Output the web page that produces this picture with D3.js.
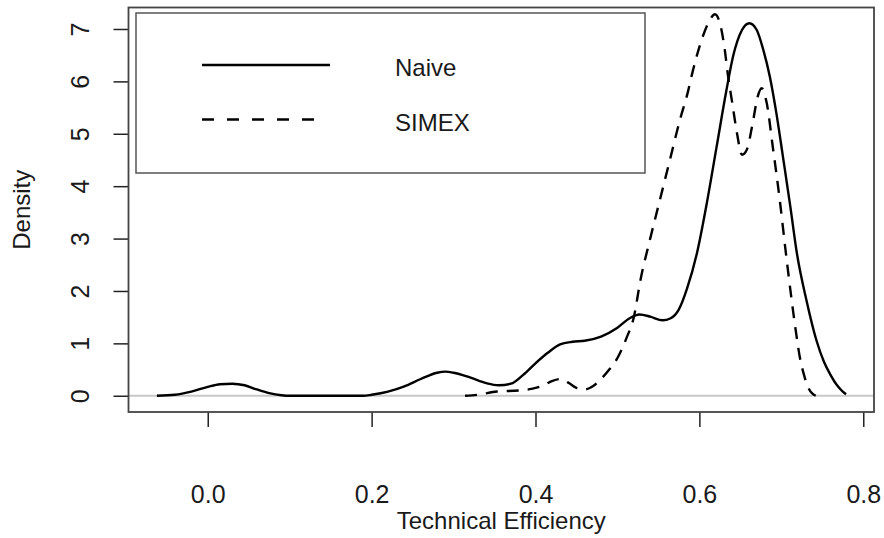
<!DOCTYPE html>
<html>
<head>
<meta charset="utf-8">
<script src="https://cdn.jsdelivr.net/npm/d3@7"></script>
<style>
  body { margin: 0; background: #fff; }
  text { font-family: "Liberation Sans", Arial, sans-serif; fill: #1a1a1a; }
</style>
</head>
<body>
<svg id="chart"></svg>
<script>
// density curves: [technical efficiency, density]
const naive = [
  [-0.062,0.0],[-0.04,0.02],[-0.02,0.08],[0.0,0.17],[0.015,0.22],[0.03,0.23],[0.045,0.2],
  [0.06,0.12],[0.075,0.05],[0.09,0.01],[0.1,0.0],[0.15,0.0],[0.19,0.0],[0.2,0.02],
  [0.22,0.08],[0.24,0.18],[0.26,0.32],[0.28,0.44],[0.29,0.46],[0.30,0.44],[0.32,0.35],
  [0.34,0.24],[0.355,0.2],[0.37,0.23],[0.385,0.4],[0.40,0.62],[0.415,0.82],[0.43,0.98],
  [0.445,1.03],[0.46,1.05],[0.48,1.13],[0.50,1.3],[0.515,1.48],[0.527,1.55],[0.54,1.51],
  [0.555,1.44],[0.565,1.48],[0.575,1.65],[0.585,2.05],[0.597,2.72],[0.609,3.67],
  [0.621,4.75],[0.633,5.83],[0.641,6.47],[0.652,6.98],[0.661,7.11],[0.67,6.98],
  [0.678,6.6],[0.686,6.09],[0.694,5.39],[0.702,4.56],[0.711,3.61],[0.719,2.72],
  [0.731,1.8],[0.743,1.05],[0.752,0.65],[0.76,0.4],[0.768,0.2],[0.775,0.08],[0.779,0.03]
];
const simex = [
  [0.314,0.0],[0.33,0.02],[0.353,0.08],[0.38,0.1],[0.395,0.13],[0.41,0.2],[0.42,0.28],
  [0.43,0.32],[0.44,0.25],[0.45,0.15],[0.46,0.12],[0.47,0.18],[0.48,0.32],[0.49,0.5],
  [0.5,0.72],[0.511,1.1],[0.52,1.5],[0.528,2.2],[0.54,3.0],[0.552,3.75],[0.564,4.5],
  [0.576,5.25],[0.586,5.8],[0.592,6.2],[0.604,6.85],[0.611,7.12],[0.619,7.28],
  [0.627,6.98],[0.631,6.6],[0.635,6.1],[0.64,5.6],[0.646,5.0],[0.652,4.6],[0.658,4.7],
  [0.665,5.2],[0.671,5.7],[0.676,5.87],[0.682,5.6],[0.69,4.7],[0.698,3.75],[0.705,2.8],
  [0.712,1.9],[0.718,1.2],[0.723,0.7],[0.728,0.38],[0.733,0.15],[0.738,0.04],[0.742,0.0]
];
const xTicks = [0, 0.2, 0.4, 0.6, 0.8];
const yTicks = [0, 1, 2, 3, 4, 5, 6, 7];
const seriesNames = ['Naive', 'SIMEX'];

const W = 884, H = 538;
const box = { left: 128.5, right: 874, top: 7.5, bottom: 412 };

const svg = d3.select('#chart').attr('width', W).attr('height', H);

const x = d3.scaleLinear().domain([-0.0967, 0.8131]).range([box.left, box.right]);
const y = d3.scaleLinear().domain([-0.31, 7.41]).range([box.bottom, box.top]);

// zero reference line
svg.append('line')
  .attr('x1', box.left).attr('x2', box.right)
  .attr('y1', y(0)).attr('y2', y(0))
  .attr('stroke', '#c8c8c8').attr('stroke-width', 2);

const line = d3.line()
  .x(d => x(d[0]))
  .y(d => y(d[1]))
  .curve(d3.curveMonotoneX);

svg.append('path').datum(naive)
  .attr('d', line)
  .attr('fill', 'none').attr('stroke', '#000').attr('stroke-width', 2.4)
  .attr('stroke-linejoin', 'round');

svg.append('path').datum(simex)
  .attr('d', line)
  .attr('fill', 'none').attr('stroke', '#000').attr('stroke-width', 2.4)
  .attr('stroke-dasharray', '12,9');

// axes
const xAxisG = svg.append('g')
  .attr('transform', `translate(0,${box.bottom})`)
  .call(d3.axisBottom(x).tickValues(xTicks).tickSize(15).tickFormat(d3.format('.1f')));
xAxisG.select('.domain').remove();
xAxisG.selectAll('line').attr('stroke', '#222').attr('stroke-width', 1.5);
xAxisG.selectAll('text')
  .attr('y', 91).attr('dy', 0)
  .style('font-size', '25px').attr('fill', '#1a1a1a');

const yAxisG = svg.append('g')
  .attr('transform', `translate(${box.left},0)`)
  .call(d3.axisLeft(y).tickValues(yTicks).tickSize(15));
yAxisG.select('.domain').remove();
yAxisG.selectAll('line').attr('stroke', '#222').attr('stroke-width', 1.5);
yAxisG.selectAll('text')
  .attr('transform', 'rotate(-90)')
  .attr('x', 0).attr('y', -40).attr('dy', 0)
  .attr('text-anchor', 'middle')
  .style('font-size', '25px').attr('fill', '#1a1a1a');

// plot frame
svg.append('rect')
  .attr('x', box.left).attr('y', box.top)
  .attr('width', box.right - box.left).attr('height', box.bottom - box.top)
  .attr('fill', 'none').attr('stroke', '#444').attr('stroke-width', 1.8);

// axis titles
svg.append('text')
  .attr('x', (box.left + box.right) / 2).attr('y', 529)
  .attr('text-anchor', 'middle')
  .style('font-size', '24px')
  .text('Technical Efficiency');

svg.append('text')
  .attr('transform', `translate(30,${(box.top + box.bottom) / 2}) rotate(-90)`)
  .attr('text-anchor', 'middle')
  .style('font-size', '24px')
  .text('Density');

// legend
const legend = svg.append('g');
legend.append('rect')
  .attr('x', 136).attr('y', 13).attr('width', 509).attr('height', 160)
  .attr('fill', '#fff').attr('stroke', '#555').attr('stroke-width', 1.5);

const legendRows = [
  { name: seriesNames[0], dash: null, y: 65, x2: 330 },
  { name: seriesNames[1], dash: '12,13', y: 119.5, x2: 317 }
];
legendRows.forEach(r => {
  legend.append('line')
    .attr('x1', 202).attr('x2', r.x2).attr('y1', r.y).attr('y2', r.y)
    .attr('stroke', '#000').attr('stroke-width', 2.5)
    .attr('stroke-dasharray', r.dash);
  legend.append('text')
    .attr('x', 395).attr('y', r.y + 11)
    .style('font-size', '24px')
    .text(r.name);
});
</script>
</body>
</html>
